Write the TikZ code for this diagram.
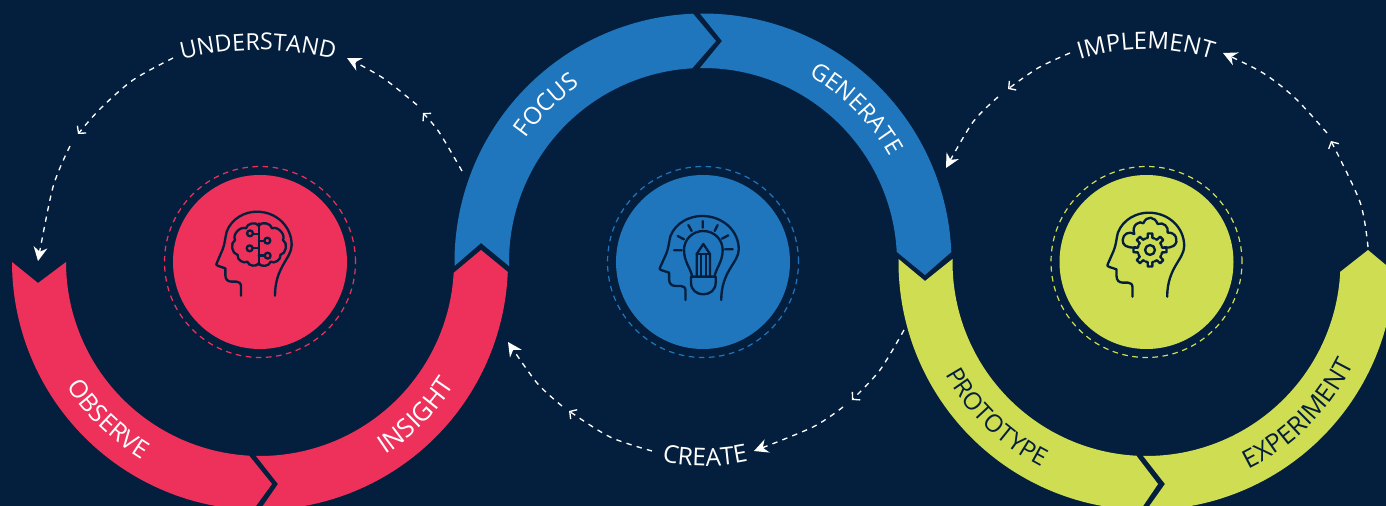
\documentclass[tikz,border=0pt]{standalone}
\usepackage{fontspec}
\setmainfont{Open Sans}
\usetikzlibrary{arrows.meta,decorations.text}
\definecolor{bgc}{HTML}{041F3D}
\definecolor{redc}{HTML}{EE315A}
\definecolor{bluec}{HTML}{1F76BD}
\definecolor{greenc}{HTML}{CFDD52}
\tikzset{
  x=0.75pt,y=-0.75pt,
  disc/.style={circle,inner sep=0pt,minimum size=130.5pt},
  halo/.style={circle,inner sep=0pt,minimum size=143.25pt,line width=0.9pt,dash pattern=on 4.2pt off 3.4pt},
  iconline/.style={draw=bgc,line width=1.75pt,line cap=round,line join=round},
  flowline/.style={white,line width=1pt,dash pattern=on 4pt off 4pt},
  midhead/.style={-{Straight Barb[length=3.8pt,width=8.5pt,line width=1pt]}},
  endhead/.style={-{Stealth[length=10.5pt,width=10.5pt,inset=3.5pt]}},
  arc60/.style 2 args={variable=\t,domain=#1:#2,samples=60}
}
% curved text: centre x, centre y, radius, angle from, angle to, colour, size, text
\newcommand{\arctext}[8]{%
  \path[decorate,decoration={text along path,text align=center,text color=#6,
     text={|\fontsize{#7}{#7}\selectfont|#8}}]
     plot[arc60={#4}{#5}] ({#1+#3*cos(\t)},{#2+#3*sin(\t)});}
\newcommand{\headpath}{%
  \draw[iconline] (243,407) -- (243,380) .. controls (243,370) and (238,365) .. (230,365) -- (215,365)
    .. controls (203,365) and (196,358) .. (196,345) -- (196,325) -- (175,318)
    .. controls (168,316) and (168,313) .. (170,310) -- (188,268)
    .. controls (195,250) and (195,235) .. (200,215)
    .. controls (215,175) and (255,155) .. (290,155)
    .. controls (350,155) and (395,200) .. (395,255)
    .. controls (395,295) and (345,320) .. (345,407);}
\begin{document}
\begin{tikzpicture}
\clip (0,0) rectangle (1386,506);
\fill[bgc] (0,0) rectangle (1386,506);

% ---- red ring
\fill[redc] plot[arc60={180}{91.6}] ({260+248*cos(\t)},{262+248*sin(\t)})
  -- (272,484) -- plot[arc60={93.2}{180}] ({260+194*cos(\t)},{262+194*sin(\t)}) -- (38,283) -- cycle;
\fill[redc] (278,484) -- plot[arc60={91.2}{3.2}] ({260+194*cos(\t)},{262+194*sin(\t)})
  -- (481,250) -- plot[arc60={2.3}{90}] ({260+248*cos(\t)},{262+248*sin(\t)}) -- cycle;
% ---- blue ring
\fill[bluec] plot[arc60={179.1}{267.7}] ({703+248.5*cos(\t)+0},{262+248.5*sin(\t)})
  -- (716,41) -- plot[arc60={266.8}{178.8}] ({703+194*cos(\t)},{262+194*sin(\t)}) -- (481,243) -- cycle;
\fill[bluec] (722,41) -- plot[arc60={269.3}{357.7}] ({703+248.5*cos(\t)},{262+248.5*sin(\t)})
  -- (925,275) -- plot[arc60={357}{269.1}] ({703+194*cos(\t)},{262+194*sin(\t)}) -- cycle;
% ---- green ring
\fill[greenc] plot[arc60={180.7}{91.4}] ({1146.5+248*cos(\t)},{262+248*sin(\t)})
  -- (1158,484) -- plot[arc60={93}{180.9}] ({1146.5+194*cos(\t)},{262+194*sin(\t)}) -- (925,281) -- cycle;
\fill[greenc] (1165,484) -- plot[arc60={91}{2.9}] ({1146.5+194*cos(\t)},{262+194*sin(\t)})
  -- (1368,250) -- plot[arc60={2.3}{90}] ({1146.5+248*cos(\t)},{262+248*sin(\t)}) -- cycle;

% ---- discs
\node[disc,fill=redc] (discR) at (260,262) {};
\node[halo,draw=redc] (haloR) at (260,262) {};
\node[disc,fill=bluec] (discB) at (703,262) {};
\node[halo,draw=bluec] (haloB) at (703,262) {};
\node[disc,fill=greenc] (discG) at (1146.5,262) {};
\node[halo,draw=greenc] (haloG) at (1146.5,262) {};

% ---- red icon: head with circuit brain
\begin{scope}[shift={(160,160)},x=0.25pt,y=-0.25pt]
  \headpath
  \draw[iconline] (296,190) -- (296,315);
  \draw[iconline] (296,197) to[bend right=70] (258,205) to[bend right=70] (225,240)
     to[bend right=70] (233,285) to[bend right=70] (262,305) to[bend right=70] (296,310);
  \draw[iconline] (296,197) to[bend left=70] (336,205) to[bend left=70] (369,240)
     to[bend left=70] (361,285) to[bend left=70] (332,305) to[bend left=70] (296,310);
  \draw[iconline] (296,222) -- (279,222) (296,243) -- (313,243) (296,265) -- (278,265) (296,287) -- (314,287);
  \draw[iconline] (270,220) circle[radius=2.2pt] (322,242) circle[radius=2.2pt]
     (269,265) circle[radius=2.2pt] (323,287) circle[radius=2.2pt];
\end{scope}

% ---- blue icon: head with bulb and pencil
\begin{scope}[shift={(600.5,164.3)},x=0.2625pt,y=-0.25pt]
  \headpath
\end{scope}
\begin{scope}[shift={(600,160)},x=0.25pt,y=-0.25pt]
  \draw[iconline] (276,348) .. controls (272,325) and (252,305) .. (252,270)
     .. controls (252,238) and (278,213) .. (310,213)
     .. controls (342,213) and (368,238) .. (368,270)
     .. controls (368,305) and (348,325) .. (344,348);
  \draw[iconline] (273,350) -- (347,350) -- (347,368) .. controls (347,390) and (330,403) .. (310,403)
     .. controls (290,403) and (273,390) .. (273,368) -- cycle;
  \draw[iconline] (290,350) -- (290,282) -- (310,252) -- (330,282) -- (330,350);
  \draw[iconline] (290,282) -- (330,282) (303,282) -- (303,350) (317,282) -- (317,350);
  \draw[iconline] (308,183) -- (308,203) (265,195) -- (275,213) (233,228) -- (252,238) (222,271) -- (245,271)
     (353,195) -- (344,213) (385,226) -- (366,236) (398,268) -- (375,268);
\end{scope}

% ---- green icon: head with cloud and gear
\begin{scope}[shift={(1049.9,161)},x=0.255pt,y=-0.25pt]
  \headpath
\end{scope}
\begin{scope}[shift={(1045,160)},x=0.25pt,y=-0.25pt]
  \draw[iconline] (315,270) circle[radius=3.7pt];
  \draw[iconline] foreach \a in {0,45,...,315} {
      ({315+37*cos(\a-22.5+5)},{270+37*sin(\a-22.5+5)}) -- ({315+37*cos(\a-11)},{270+37*sin(\a-11)})
      -- ({315+50*cos(\a-8)},{270+50*sin(\a-8)}) -- ({315+50*cos(\a+8)},{270+50*sin(\a+8)})
      -- ({315+37*cos(\a+11)},{270+37*sin(\a+11)}) -- ({315+37*cos(\a+22.5)},{270+37*sin(\a+22.5)}) };
  \draw[iconline] (272,262) .. controls (245,265) and (232,255) .. (233,240)
     .. controls (234,222) and (252,212) .. (268,222)
     .. controls (258,195) and (285,180) .. (295,190)
     .. controls (305,165) and (330,170) .. (338,192)
     .. controls (355,185) and (372,200) .. (368,218)
     .. controls (392,215) and (405,245) .. (385,258)
     .. controls (378,263) and (368,264) .. (358,262);
\end{scope}

% ---- ring labels
\arctext{260}{262}{230}{164}{104}{white}{18.5}{OBSERVE}
\arctext{260}{262}{230}{74.6}{14.6}{white}{19.2}{INSIGHT}
\arctext{703}{262}{215.5}{195}{255}{white}{18}{FOCUS}
\arctext{703}{262}{214.5}{285}{345}{white}{17.6}{GENERATE}
\arctext{1146.5}{262}{230.5}{164}{104}{bgc}{18.2}{PROTOTYPE}
\arctext{1146.5}{262}{231}{75}{15}{bgc}{19}{EXPERIMENT}

% ---- flow labels
\arctext{258}{350}{300}{245}{295}{white}{17.5}{UNDERSTAND}
\arctext{1146}{269}{220}{240}{300}{white}{17.9}{IMPLEMENT}
\arctext{705}{256}{210}{120}{60}{white}{18.4}{CREATE}

% ---- flow connectors
\coordinate (ua) at (462,171); \coordinate (ub) at (439,132); \coordinate (uc) at (423,113);
\coordinate (ud) at (417,105); \coordinate (ue) at (383,78); \coordinate (uf) at (347,58);
\draw[flowline,midhead] plot[smooth] coordinates {(ua) (ub) (uc)};
\draw[flowline,endhead] plot[smooth] coordinates {(ud) (ue) (uf)};
\coordinate (va) at (173,58); \coordinate (vb) at (133,80); \coordinate (vg) at (100,109); \coordinate (vc) at (78,134);
\coordinate (vd) at (70,146); \coordinate (ve) at (53,187); \coordinate (vf) at (38,261);
\draw[flowline,midhead] plot[smooth] coordinates {(va) (vb) (vg) (vc)};
\draw[flowline,endhead] plot[smooth] coordinates {(vd) (ve) (vf)};
\coordinate (ca) at (904,330); \coordinate (cb) at (880,370); \coordinate (cc) at (852,400);
\coordinate (cd) at (843,407); \coordinate (ce) at (813,427); \coordinate (cf) at (754,451);
\draw[flowline,midhead] plot[smooth] coordinates {(ca) (cb) (cc)};
\draw[flowline,endhead] plot[smooth] coordinates {(cd) (ce) (cf)};
\coordinate (da) at (652,451); \coordinate (db) at (610,437); \coordinate (dc) at (569,411);
\coordinate (dd) at (562,406); \coordinate (de) at (537,383); \coordinate (df) at (508,342);
\draw[flowline,midhead] plot[smooth] coordinates {(da) (db) (dc)};
\draw[flowline,endhead] plot[smooth] coordinates {(dd) (de) (df)};
\coordinate (ia) at (1070,53); \coordinate (ib) at (1038,68); \coordinate (ic) at (1008,89);
\coordinate (id) at (998,97); \coordinate (ie) at (973,122); \coordinate (if) at (946,168);
\draw[flowline,midhead] plot[smooth] coordinates {(ia) (ib) (ic)};
\draw[flowline,endhead] plot[smooth] coordinates {(id) (ie) (if)};
\coordinate (ja) at (1368,247); \coordinate (jb) at (1360,202); \coordinate (jc) at (1331,141);
\coordinate (jd) at (1327,133); \coordinate (je) at (1295,98); \coordinate (jg) at (1263,73); \coordinate (jf) at (1223,53);
\draw[flowline,midhead] plot[smooth] coordinates {(ja) (jb) (jc)};
\draw[flowline,endhead] plot[smooth] coordinates {(jd) (je) (jg) (jf)};
\end{tikzpicture}
\end{document}
